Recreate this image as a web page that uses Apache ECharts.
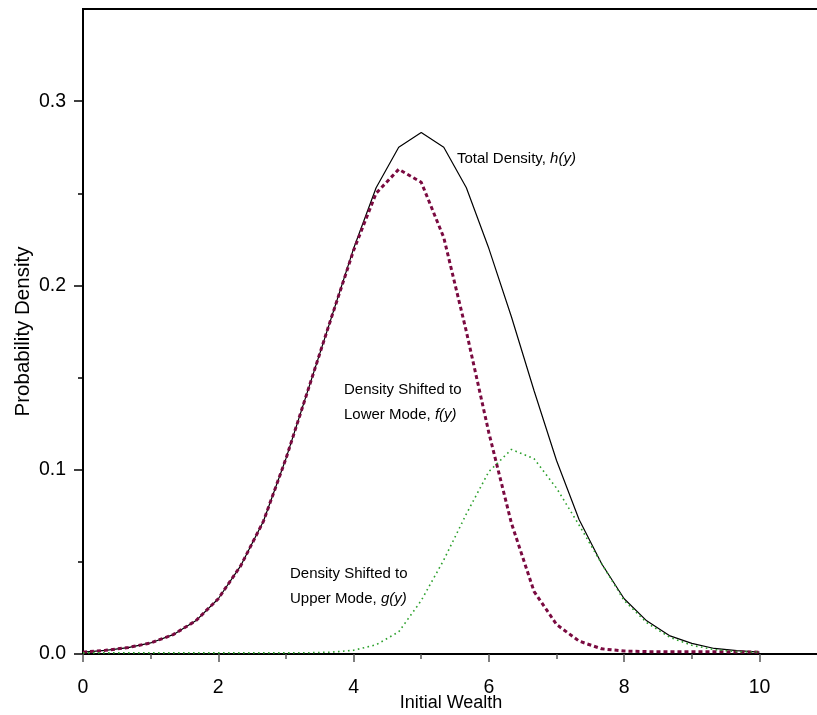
<!DOCTYPE html>
<html>
<head>
<meta charset="utf-8">
<script src="https://cdn.jsdelivr.net/npm/echarts@6/dist/echarts.min.js"></script>
<style>html,body{margin:0;padding:0;background:#fff}#c{width:817px;height:715px}</style>
</head>
<body>
<div id="c"></div>
<script>
const wealth = [0, 0.333, 0.667, 1, 1.333, 1.667, 2, 2.333, 2.667, 3, 3.333, 3.667, 4, 4.333, 4.667, 5, 5.333, 5.667, 6, 6.333, 6.667, 7, 7.333, 7.667, 8, 8.333, 8.667, 9, 9.333, 9.667, 10];
const totalDensity = [0.0010, 0.0020, 0.0035, 0.0060, 0.0105, 0.0180, 0.0300, 0.0480, 0.0720, 0.1060, 0.1440, 0.1820, 0.2200, 0.2530, 0.2750, 0.2830, 0.2750, 0.2530, 0.2200, 0.1830, 0.1430, 0.1050, 0.0730, 0.0490, 0.0300, 0.0180, 0.0100, 0.0058, 0.0030, 0.0018, 0.0010];
const lowerMode = [0.0010, 0.0020, 0.0035, 0.0060, 0.0105, 0.0180, 0.0300, 0.0480, 0.0720, 0.1060, 0.1440, 0.1820, 0.2190, 0.2500, 0.2630, 0.2560, 0.2260, 0.1750, 0.1200, 0.0710, 0.0340, 0.0160, 0.0070, 0.0028, 0.0016, 0.0013, 0.0012, 0.0012, 0.0012, 0.0011, 0.0010];
const upperMode = [0.0006, 0.0006, 0.0006, 0.0006, 0.0006, 0.0006, 0.0006, 0.0006, 0.0006, 0.0006, 0.0007, 0.0010, 0.0020, 0.0050, 0.0120, 0.0290, 0.0510, 0.0760, 0.0990, 0.1110, 0.1060, 0.0900, 0.0700, 0.0490, 0.0290, 0.0170, 0.0092, 0.0047, 0.0024, 0.0013, 0.0010];
const xTicks = [0, 2, 4, 6, 8, 10];
const xMinorTicks = [1, 3, 5, 7, 9];
const yTicks = [0, 0.1, 0.2, 0.3];
const yMinorTicks = [0.05, 0.15, 0.25];

const pair = (ys) => wealth.map((x, i) => [x, ys[i]]);
const font = '"Liberation Sans", Arial, sans-serif';
const X_MAX = 10.88;

const chart = echarts.init(document.getElementById('c'), null, {renderer: 'canvas'});
chart.setOption({
  animation: false,
  backgroundColor: '#fff',
  grid: {left: 83, right: -2, top: 9, bottom: 61, containLabel: false, outerBoundsMode: 'none',
         show: true, borderColor: '#000', borderWidth: 2, backgroundColor: 'transparent'},
  xAxis: [
    {
      type: 'value', position: 'bottom', min: 0, max: X_MAX, interval: 2,
      name: 'Initial Wealth', nameLocation: 'middle', nameGap: 40, nameMoveOverlap: false,
      nameTextStyle: {fontFamily: font, fontSize: 18, color: '#000'},
      axisLine: {show: true, onZero: false, lineStyle: {color: '#000', width: 2}},
      axisTick: {show: true, length: 8, customValues: xTicks, lineStyle: {color: '#555', width: 1.5}},
      axisLabel: {customValues: xTicks, margin: 24, fontFamily: font, fontSize: 19.5, color: '#000'},
      splitLine: {show: false}
    },
    {
      type: 'value', position: 'bottom', min: 0, max: X_MAX,
      axisLine: {show: false},
      axisTick: {show: true, length: 5, customValues: xMinorTicks, lineStyle: {color: '#555', width: 1.5}},
      axisLabel: {show: false},
      splitLine: {show: false}
    }
  ],
  yAxis: [
    {
      type: 'value', position: 'left', min: 0, max: 0.35, interval: 0.1,
      name: 'Probability Density', nameLocation: 'middle', nameGap: 49, nameMoveOverlap: false,
      nameTextStyle: {fontFamily: font, fontSize: 20.5, color: '#000'},
      axisLine: {show: true, onZero: false, lineStyle: {color: '#000', width: 2}},
      axisTick: {show: true, length: 9, customValues: yTicks, lineStyle: {color: '#000', width: 1.5}},
      axisLabel: {customValues: yTicks, margin: 17, fontFamily: font, fontSize: 19.5, color: '#000',
                  formatter: v => v.toFixed(1)},
      splitLine: {show: false}
    },
    {
      type: 'value', position: 'left', min: 0, max: 0.35,
      axisLine: {show: false},
      axisTick: {show: true, length: 5, customValues: yMinorTicks, lineStyle: {color: '#000', width: 1.5}},
      axisLabel: {show: false}, splitLine: {show: false}
    }
  ],
  series: [
    {
      name: 'Total Density, h(y)', type: 'line', xAxisIndex: 0, yAxisIndex: 0,
      data: pair(totalDensity), showSymbol: false, smooth: false,
      lineStyle: {color: '#000', width: 1.2}, z: 2
    },
    {
      name: 'Lower Mode, f(y)', type: 'line', xAxisIndex: 0, yAxisIndex: 0,
      data: pair(lowerMode), showSymbol: false, smooth: false,
      lineStyle: {color: '#7a0a40', width: 3, type: [4, 3]}, z: 3
    },
    {
      name: 'Upper Mode, g(y)', type: 'line', xAxisIndex: 0, yAxisIndex: 0,
      data: pair(upperMode), showSymbol: false, smooth: false,
      lineStyle: {color: '#2ca02c', width: 1.6, type: [1.6, 3.4]}, z: 4
    }
  ],
  graphic: [
    {type: 'text', left: 457, top: 151, style: {
      text: '{n|Total Density, }{i|h(y)}',
      rich: {n: {fontFamily: font, fontSize: 15, fill: '#000'}, i: {fontFamily: font, fontSize: 15, fontStyle: 'italic', fill: '#000'}}}},
    {type: 'text', left: 344, top: 382, style: {
      text: '{n|Density Shifted to}\n{n|Lower Mode, }{i|f(y)}',
      rich: {n: {fontFamily: font, fontSize: 15, lineHeight: 25, fill: '#000'}, i: {fontFamily: font, fontSize: 15, lineHeight: 25, fontStyle: 'italic', fill: '#000'}}}},
    {type: 'text', left: 290, top: 566, style: {
      text: '{n|Density Shifted to}\n{n|Upper Mode, }{i|g(y)}',
      rich: {n: {fontFamily: font, fontSize: 15, lineHeight: 25, fill: '#000'}, i: {fontFamily: font, fontSize: 15, lineHeight: 25, fontStyle: 'italic', fill: '#000'}}}}
  ]
});
</script>
</body>
</html>
